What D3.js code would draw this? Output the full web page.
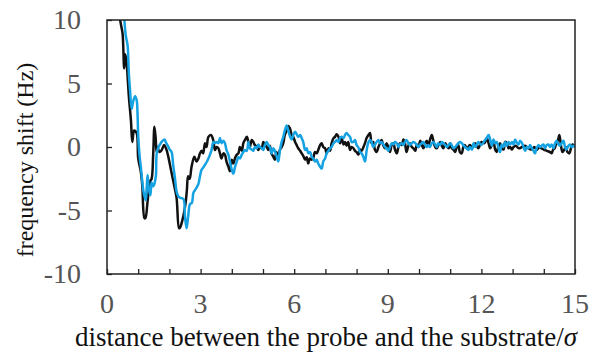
<!DOCTYPE html>
<html><head><meta charset="utf-8">
<script src="https://cdn.jsdelivr.net/npm/d3@7"></script>
<style>body{margin:0;background:#fff}svg{display:block}</style>
</head><body><svg id="c" width="593" height="361"></svg>
<script>
const xTicks = [0, 3, 6, 9, 12, 15];
const yTicks = [-10, -5, 0, 5, 10];
const blackX = [0.40,0.45,0.50,0.55,0.58,0.62,0.70,0.77,0.81,0.87,0.95,1.00,1.08,1.13,1.20,1.23,1.30,1.38,1.43,1.48,1.52,1.56,1.59,1.62,1.68,1.75,1.83,1.89,1.95,2.05,2.15,2.23,2.31,2.35,2.45,2.52,2.56,2.60,2.65,2.71,2.80,2.87,2.93,2.98,3.03,3.08,3.14,3.19,3.25,3.33,3.40,3.46,3.51,3.57,3.62,3.67,3.73,3.78,3.83,3.89,3.94,4.00,4.05,4.10,4.16,4.21,4.26,4.32,4.37,4.42,4.48,4.53,4.58,4.64,4.69,4.74,4.80,4.85,4.90,4.96,5.01,5.06,5.12,5.17,5.22,5.27,5.33,5.38,5.43,5.49,5.54,5.60,5.65,5.70,5.76,5.81,5.86,5.92,5.97,6.03,6.08,6.13,6.19,6.24,6.29,6.35,6.40,6.45,6.50,6.56,6.61,6.66,6.72,6.77,6.83,6.88,6.93,6.99,7.04,7.10,7.15,7.20,7.26,7.31,7.36,7.42,7.47,7.52,7.58,7.63,7.68,7.73,7.79,7.84,7.90,7.95,8.00,8.06,8.11,8.16,8.22,8.27,8.32,8.38,8.43,8.48,8.53,8.59,8.64,8.70,8.75,8.80,8.86,8.91,8.96,9.02,9.07,9.13,9.18,9.23,9.29,9.34,9.39,9.45,9.50,9.55,9.60,9.66,9.71,9.77,9.82,9.88,9.93,9.98,10.04,10.09,10.14,10.20,10.25,10.30,10.35,10.41,10.46,10.52,10.57,10.62,10.68,10.73,10.78,10.84,10.89,10.95,11.00,11.05,11.10,11.16,11.21,11.26,11.31,11.37,11.42,11.47,11.53,11.58,11.63,11.70,11.80,11.90,12.00,12.10,12.17,12.23,12.28,12.33,12.39,12.44,12.49,12.55,12.60,12.65,12.71,12.76,12.82,12.87,12.92,12.98,13.03,13.10,13.20,13.30,13.40,13.50,13.60,13.70,13.77,13.85,13.92,14.00,14.10,14.20,14.25,14.30,14.35,14.40,14.45,14.50,14.55,14.60,14.66,14.71,14.76,14.82,14.87,14.92,14.97,15.00];
const blackY = [10.3,9.6,8.9,6.2,7.3,6.8,4.0,2.0,0.4,1.3,1.1,-0.9,-1.9,-3.0,-5.6,-5.6,-4.3,-2.7,-2.5,-0.6,1.6,0.7,-0.4,0.0,-0.4,-0.25,0.15,-0.1,-0.6,-1.8,-3.0,-4.0,-6.4,-6.3,-5.4,-4.4,-3.4,-2.3,-2.5,-1.55,-0.76,-1.15,-0.9,-0.5,-0.3,-0.5,0.3,0.0,0.8,0.95,0.6,-0.24,0.0,-0.1,-0.5,-0.9,-0.5,-0.6,-1.15,-1.55,-1.9,-1.0,-1.3,-0.9,-0.6,-0.5,0.0,-0.3,0.3,0.55,0.8,0.4,0.0,0.55,0.4,0.15,0.0,-0.24,0.0,-0.1,0.4,0.15,0.0,-0.24,0.1,-0.5,-0.76,-1.0,-0.4,-0.7,-0.24,0.0,0.3,0.95,1.3,1.65,1.5,0.95,0.8,0.4,0.15,-0.1,-0.3,-0.5,-0.7,-1.0,-0.8,-1.3,-0.9,-1.0,-0.9,-0.4,-0.5,-0.24,0.15,0.3,0.0,-0.1,-0.5,-0.1,-0.3,0.3,0.7,0.8,1.0,0.8,0.3,0.7,0.2,0.4,0.1,0.4,-0.24,0.0,-0.1,-0.3,-0.4,-0.6,-0.2,-0.3,0.0,0.3,0.7,0.95,1.1,0.3,0.4,-0.24,-0.4,0.0,0.3,0.55,0.1,-0.1,0.3,0.0,-0.4,0.2,0.3,-0.2,-0.5,0.0,0.3,0.15,0.6,0.3,-0.4,0.1,0.3,0.0,-0.1,-0.3,0.2,0.0,0.5,0.15,-0.1,0.3,0.5,0.1,0.55,0.95,0.5,0.0,-0.1,0.15,0.4,0.1,-0.1,0.3,0.1,-0.1,0.3,-0.1,-0.2,-0.4,0.0,0.15,-0.4,-0.5,0.0,0.15,-0.1,0.0,0.15,0.0,0.3,-0.1,0.4,0.3,0.7,0.3,-0.1,0.15,0.4,-0.2,-0.4,0.1,0.3,-0.1,-0.2,0.4,0.3,-0.1,0.0,-0.2,0.0,0.1,-0.1,0.0,0.1,-0.1,-0.2,0.0,-0.24,0.0,-0.1,-0.2,-0.3,-0.4,-0.5,-0.2,-0.1,0.3,0.5,0.95,0.1,-0.4,-0.2,0.0,-0.4,-0.5,-0.1,0.2,0.1,0.0];
const blueX = [0.55,0.60,0.66,0.70,0.74,0.79,0.84,0.90,0.95,0.98,1.00,1.04,1.09,1.13,1.17,1.24,1.27,1.30,1.34,1.39,1.43,1.48,1.53,1.57,1.59,1.65,1.70,1.75,1.84,1.90,1.97,2.01,2.07,2.12,2.18,2.23,2.29,2.35,2.45,2.50,2.55,2.60,2.66,2.72,2.77,2.82,2.87,2.93,2.98,3.03,3.09,3.14,3.19,3.25,3.30,3.35,3.41,3.46,3.51,3.57,3.62,3.67,3.73,3.78,3.83,3.89,3.94,4.00,4.05,4.10,4.16,4.21,4.26,4.32,4.37,4.42,4.48,4.53,4.58,4.64,4.69,4.74,4.80,4.85,4.90,4.96,5.01,5.06,5.12,5.17,5.22,5.28,5.33,5.38,5.44,5.49,5.54,5.60,5.65,5.70,5.76,5.81,5.87,5.92,5.97,6.03,6.08,6.13,6.19,6.24,6.29,6.35,6.40,6.45,6.51,6.56,6.61,6.67,6.72,6.77,6.83,6.88,6.93,6.99,7.04,7.10,7.15,7.20,7.26,7.31,7.36,7.42,7.47,7.52,7.58,7.63,7.68,7.73,7.79,7.84,7.90,7.95,8.00,8.05,8.11,8.16,8.22,8.27,8.32,8.37,8.43,8.48,8.53,8.59,8.64,8.70,8.75,8.80,8.86,8.91,8.96,9.02,9.07,9.13,9.18,9.23,9.29,9.34,9.39,9.45,9.50,9.55,9.60,9.66,9.71,9.77,9.82,9.88,9.93,9.98,10.04,10.09,10.14,10.20,10.25,10.30,10.35,10.41,10.46,10.52,10.57,10.62,10.68,10.73,10.78,10.84,10.89,10.95,11.00,11.05,11.10,11.16,11.21,11.26,11.31,11.37,11.42,11.47,11.53,11.58,11.63,11.70,11.75,11.80,11.85,11.90,12.00,12.10,12.17,12.23,12.28,12.33,12.39,12.44,12.49,12.55,12.60,12.65,12.71,12.76,12.82,12.87,12.92,12.98,13.03,13.08,13.14,13.19,13.24,13.30,13.35,13.40,13.46,13.51,13.56,13.62,13.67,13.72,13.77,13.83,13.88,13.93,13.99,14.04,14.09,14.15,14.20,14.25,14.31,14.36,14.41,14.47,14.52,14.57,14.63,14.68,14.73,14.79,14.84,14.89,14.95,15.00];
const blueY = [10.3,8.8,8.0,5.8,4.4,3.0,3.6,4.0,3.7,2.5,0.9,-0.6,-1.7,-2.7,-3.5,-4.2,-3.3,-2.2,-3.3,-3.8,-2.8,-3.1,-2.8,-2.2,-0.6,0.0,0.2,0.4,0.6,0.3,0.0,-0.2,-0.4,-1.4,-2.5,-3.5,-3.9,-4.0,-4.1,-5.5,-6.4,-5.5,-4.5,-4.4,-3.6,-3.4,-3.2,-2.9,-2.3,-1.8,-1.6,-1.4,-1.2,-0.9,-0.6,-0.24,0.4,0.3,0.4,0.3,0.7,0.3,0.5,0.3,-0.24,-0.6,-1.15,-1.8,-2.1,-1.6,-1.15,-0.8,-0.9,-0.6,-0.4,-0.24,-0.3,0.4,-0.1,-0.2,-0.3,0.0,-0.1,0.2,0.0,-0.1,-0.24,0.15,0.4,0.15,0.0,-0.5,-0.1,-0.3,-0.76,-1.15,-0.3,0.4,0.8,1.3,1.7,1.3,0.8,0.6,0.95,1.2,1.0,0.8,0.95,0.7,0.4,-0.24,-0.1,-0.5,-0.4,-0.76,-0.9,-1.15,-1.0,-1.3,-1.55,-1.7,-1.15,-0.9,-0.5,-0.3,-0.1,0.0,0.3,0.4,0.55,0.4,0.7,0.8,0.7,0.95,1.1,0.95,0.8,0.4,0.4,0.55,0.15,0.0,-0.4,-0.5,-0.8,-1.15,-0.3,0.3,0.55,0.4,0.0,0.2,0.4,0.55,0.3,0.4,0.2,0.0,-0.1,-0.3,0.0,0.3,0.2,0.4,0.3,0.0,0.2,0.3,0.15,0.4,0.55,0.3,0.15,0.3,0.4,0.3,0.15,0.0,0.2,0.3,0.4,0.15,0.0,0.15,0.0,0.3,0.4,0.2,0.0,0.3,0.15,0.4,0.3,0.15,0.0,0.15,0.3,0.15,-0.1,0.0,0.15,0.3,0.4,0.3,0.15,0.0,-0.1,-0.24,0.0,-0.2,0.3,0.0,0.15,0.4,0.15,0.5,0.7,0.95,0.6,0.1,0.6,0.3,0.4,-0.1,-0.4,0.2,0.0,0.4,0.1,0.4,0.2,0.4,0.2,0.6,0.3,0.2,0.5,0.3,0.0,-0.3,0.0,-0.1,0.15,-0.1,-0.3,-0.5,-0.1,0.15,0.0,0.1,0.2,-0.1,0.15,0.2,0.0,0.2,-0.1,0.3,0.5,0.2,0.1,0.3,0.5,0.0,-0.2,0.1,0.2,0.0,0.1,0.0];

const W = 593, H = 361;
const m = {left: 107, right: 575, top: 20, bottom: 274};
const svg = d3.select('#c');
const x = d3.scaleLinear().domain([0, 15]).range([m.left, m.right]);
const y = d3.scaleLinear().domain([-10, 10]).range([m.bottom, m.top]);

svg.append('defs').append('clipPath').attr('id', 'clip')
  .append('rect').attr('x', m.left).attr('y', m.top)
  .attr('width', m.right - m.left).attr('height', m.bottom - m.top);

const line = d3.line().x(d => x(d[0])).y(d => y(d[1])).curve(d3.curveCatmullRom.alpha(0.5));
const blackData = blackX.map((v, i) => [v, blackY[i]]);
const blueData = blueX.map((v, i) => [v, blueY[i]]);

const g = svg.append('g').attr('clip-path', 'url(#clip)');
g.append('path').datum(blackData).attr('d', line)
  .attr('fill', 'none').attr('stroke', '#111').attr('stroke-width', 2.5).attr('stroke-linejoin', 'round');
g.append('path').datum(blueData).attr('d', line)
  .attr('fill', 'none').attr('stroke', '#14a2e2').attr('stroke-width', 2.5).attr('stroke-linejoin', 'round');

// axes with inward ticks
const xAxis = d3.axisBottom(x).tickValues(d3.range(0, 16, 1)).tickSize(-5).tickFormat('');
const gx = svg.append('g').attr('transform', `translate(0,${m.bottom})`).call(xAxis);
const yAxis = d3.axisLeft(y).tickValues(yTicks).tickSize(-5).tickFormat('');
const gy = svg.append('g').attr('transform', `translate(${m.left},0)`).call(yAxis);
[gx, gy].forEach(a => { a.select('.domain').remove(); a.selectAll('line').attr('stroke', '#222').attr('stroke-width', 1.3); });

// frame
svg.append('rect').attr('x', m.left).attr('y', m.top)
  .attr('width', m.right - m.left).attr('height', m.bottom - m.top)
  .attr('fill', 'none').attr('stroke', '#222').attr('stroke-width', 1.5);

const font = '"Liberation Serif", "Times New Roman", serif';
svg.append('g').selectAll('text').data(xTicks).join('text')
  .attr('x', d => x(d)).attr('y', 313)
  .attr('text-anchor', 'middle').attr('font-family', font).attr('font-size', 28)
  .attr('fill', '#555').text(d => d);
svg.append('g').selectAll('text').data(yTicks).join('text')
  .attr('x', 81).attr('y', d => y(d) + 9)
  .attr('text-anchor', 'end').attr('font-family', font).attr('font-size', 28)
  .attr('fill', '#555').text(d => d);

svg.append('text').attr('x', 326).attr('y', 346).attr('text-anchor', 'middle')
  .attr('font-family', font).attr('font-size', 27).attr('fill', '#111')
  .html('distance between the probe and the substrate/<tspan font-style="italic">σ</tspan>');
svg.append('text').attr('transform', 'translate(33,160) rotate(-90)').attr('text-anchor', 'middle')
  .attr('font-family', font).attr('font-size', 24).attr('fill', '#111')
  .text('frequency shift (Hz)');
</script></body></html>
